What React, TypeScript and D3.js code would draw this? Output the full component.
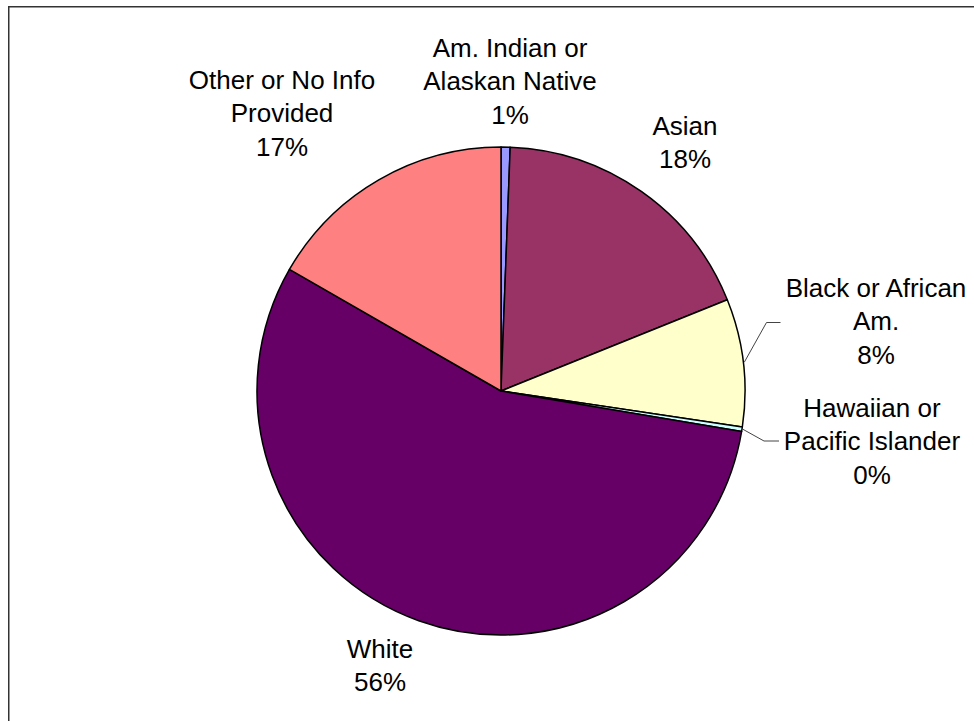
import React from "react";
import * as d3 from "d3";

const categories = [
  "Am. Indian or Alaskan Native",
  "Asian",
  "Black or African Am.",
  "Hawaiian or Pacific Islander",
  "White",
  "Other or No Info Provided",
];
const values = [0.6, 18.3, 8.45, 0.3, 55.65, 16.7];
const colors = ["#9999ff", "#993366", "#ffffcc", "#ccffff", "#660066", "#ff8080"];
const labelLines = [
  ["Am. Indian or", "Alaskan Native"],
  ["Asian"],
  ["Black or African", "Am."],
  ["Hawaiian or", "Pacific Islander"],
  ["White"],
  ["Other or No Info", "Provided"],
];

// layout (label anchors: center x, first baseline y)
const W = 974;
const H = 721;
const CX = 501;
const CY = 391;
const R = 244;
const FONT = 26;
const LINE = 33.3;
const labelAnchor: [number, number][] = [
  [510, 57],
  [685, 135],
  [876, 297],
  [872, 417],
  [380, 658],
  [282, 89],
];
// leader lines: [elbow x, elbow y, end x]
const leaders: Record<number, [number, number, number]> = {
  2: [766.5, 322.5, 780.5],
  3: [764, 441, 779],
};

export default function App() {
  const pie = d3.pie<number>().sort(null).value((d) => d)(values);
  const arc = d3.arc<d3.PieArcDatum<number>>().innerRadius(0).outerRadius(R);
  const total = d3.sum(values);

  return (
    <svg
      width={W}
      height={H}
      style={{ position: "absolute", left: 0, top: 0, background: "#fff" }}
      fontFamily="'Liberation Sans', Arial, sans-serif"
    >
      <rect x={8.75} y={6.75} width={1200} height={1000} fill="none" stroke="#333" strokeWidth={1.5} />
      <g transform={`translate(${CX},${CY})`}>
        {pie.map((p, i) => (
          <path key={categories[i]} d={arc(p) || ""} fill={colors[i]} stroke="#000" strokeWidth={1.5} strokeLinejoin="round" />
        ))}
      </g>
      {pie.map((p, i) => {
        const l = leaders[i];
        if (!l) return null;
        const mid = (p.startAngle + p.endAngle) / 2;
        const sx = CX + Math.sin(mid) * (R + 1);
        const sy = CY - Math.cos(mid) * (R + 1);
        return (
          <polyline
            key={"ld" + i}
            points={`${sx},${sy} ${l[0]},${l[1]} ${l[2]},${l[1]}`}
            fill="none"
            stroke="#444"
            strokeWidth={1}
          />
        );
      })}
      {labelLines.map((lines, i) => {
        const [x, y] = labelAnchor[i];
        const all = [...lines, `${Math.round((values[i] / total) * 100)}%`];
        return (
          <text key={"lb" + i} x={x} y={y} textAnchor="middle" fontSize={FONT} fill="#000">
            {all.map((t, j) => (
              <tspan key={j} x={x} y={y + j * LINE}>
                {t}
              </tspan>
            ))}
          </text>
        );
      })}
    </svg>
  );
}
